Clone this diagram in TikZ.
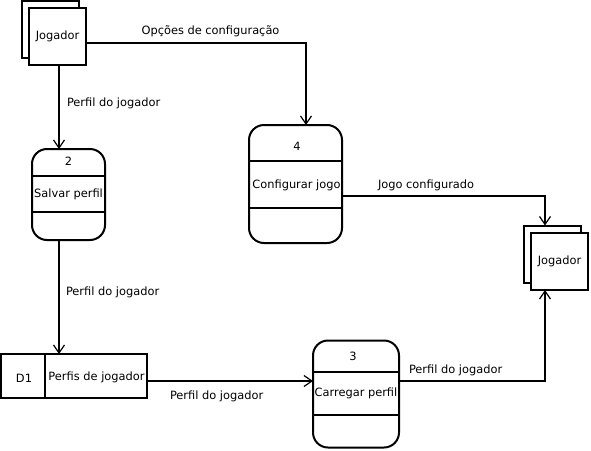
\documentclass[tikz,border=0pt]{standalone}
\usepackage{fontspec}
\setmainfont{DejaVu Sans}
\usetikzlibrary{arrows.meta}
\begin{document}
\begin{tikzpicture}[x=1pt,y=-1pt,
  font=\fontsize{11.4}{13}\selectfont,
  every node/.style={inner sep=0pt, outer sep=0pt},
  box/.style={draw, line width=2pt, fill=white, rectangle},
  proc/.style={draw, line width=2pt, rounded corners=15pt, rectangle},
  divl/.style={line width=2pt},
  flow/.style={line width=2pt, -{Straight Barb[length=8pt,width=11pt,line width=1.2pt]}},
  lbl/.style={anchor=west}
]
\useasboundingbox (0,0) rectangle (591,450);

% top-left external entity
\node[box, minimum width=57pt, minimum height=57pt] (j1b) at (50.5,29.5) {};
\node[box, minimum width=57pt, minimum height=57pt] (j1) at (57.5,36.5) {Jogador};

% right external entity
\node[box, minimum width=57pt, minimum height=57pt] (j2b) at (552.5,254) {};
\node[box, minimum width=57pt, minimum height=57pt] (j2) at (559.5,261.5) {Jogador};

% process 2
\node[proc, minimum width=73pt, minimum height=91pt] (p2) at (68.5,194.5) {};
\draw[divl] (p2.west |- 0,176) -- (p2.east |- 0,176);
\draw[divl] (p2.west |- 0,212) -- (p2.east |- 0,212);
\node (p2n) at (68.5,161.5) {2};
\node (p2t) at (68.5,194) {Salvar perfil};

% process 4
\node[proc, minimum width=93pt, minimum height=118pt] (p4) at (295.5,184) {};
\draw[divl] (p4.west |- 0,161) -- (p4.east |- 0,161);
\draw[divl] (p4.west |- 0,208) -- (p4.east |- 0,208);
\node (p4n) at (297,146.5) {4};
\node (p4t) at (296.5,185) {Configurar jogo};

% process 3
\node[proc, minimum width=86pt, minimum height=107pt] (p3) at (356,394) {};
\draw[divl] (p3.west |- 0,372) -- (p3.east |- 0,372);
\draw[divl] (p3.west |- 0,415) -- (p3.east |- 0,415);
\node (p3n) at (353,356.5) {3};
\node (p3t) at (356,393.5) {Carregar perfil};

% data store D1
\node[box, minimum width=146pt, minimum height=44pt] (d1) at (74,376) {};
\draw[divl] (45,354) -- (45,398);
\node (d1n) at (24,378) {D1};
\node (d1t) at (96.5,377) {Perfis de jogador};

% flows
\draw[flow] (j1.east |- 0,43) -| (p4.north -| 306,0);
\draw[flow] (j1.south -| 59,0) -- (p2.north -| 59,0);
\draw[flow] (p2.south -| 59,0) -- (d1.north -| 59,0);
\draw[flow] (d1.east |- 0,381) -- (p3.west |- 0,381);
\draw[flow] (p3.east |- 0,381) -| (j2.south -| 545,0);
\draw[flow] (p4.east |- 0,196) -| (j2b.north -| 545,0);

% flow labels
\node (l1) at (210.5,31) {Opções de configuração};
\node[lbl] (l2) at (67,103) {Perfil do jogador};
\node[lbl] (l3) at (66,292) {Perfil do jogador};
\node[lbl] (l4) at (170,396) {Perfil do jogador};
\node[lbl] (l5) at (409,370) {Perfil do jogador};
\node[lbl] (l6) at (378,185) {Jogo configurado};
\end{tikzpicture}
\end{document}
